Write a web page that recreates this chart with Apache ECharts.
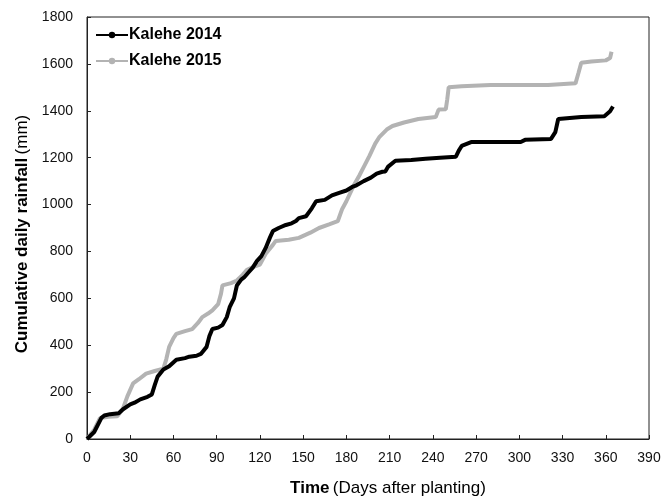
<!DOCTYPE html>
<html>
<head>
<meta charset="utf-8">
<script src="https://cdn.jsdelivr.net/npm/echarts@6/dist/echarts.min.js"></script>
<style>
  html, body { margin: 0; padding: 0; background: #fff; }
  #chart { width: 671px; height: 502px; }
</style>
</head>
<body>
<div id="chart"></div>
<script>
// Kalehe 2014 - cumulative rainfall (days after planting, mm)
const days2014 = [0, 5, 10, 12, 16, 22, 25, 30, 33, 37, 42, 45, 47, 49, 53, 57, 62, 68, 71, 76, 79, 83, 85, 87, 91, 94, 97, 99, 102, 104, 107, 109, 112, 115, 118, 121, 124, 127, 129, 133, 138, 142, 145, 147, 152, 156, 159, 165, 170, 175, 180, 184, 187, 192, 197, 201, 205, 207, 209, 214, 225, 235, 245, 256, 258, 260, 267, 290, 301, 304, 322, 325, 327, 343, 359, 363, 365];
const rain2014 = [0, 30, 90, 100, 106, 110, 127, 148, 155, 169, 180, 190, 230, 266, 296, 310, 338, 345, 351, 355, 363, 393, 440, 469, 475, 486, 520, 562, 600, 655, 680, 689, 710, 731, 760, 780, 815, 860, 887, 900, 913, 920, 930, 942, 950, 984, 1014, 1020, 1039, 1050, 1060, 1075, 1082, 1100, 1115, 1132, 1140, 1141, 1162, 1187, 1190, 1195, 1200, 1204, 1230, 1250, 1267, 1267, 1267, 1276, 1280, 1309, 1365, 1373, 1377, 1398, 1418];

// Kalehe 2015
const days2015 = [0, 5, 9, 15, 21, 25, 28, 32, 36, 41, 47, 53, 55, 57, 60, 62, 68, 73, 77, 80, 84, 87, 91, 93, 94, 100, 104, 108, 111, 116, 120, 124, 129, 131, 140, 147, 155, 161, 168, 174, 177, 180, 185, 189, 192, 196, 200, 203, 208, 212, 220, 230, 242, 244, 249, 250, 251, 260, 280, 300, 320, 339, 341, 343, 350, 360, 363, 364];
const rain2015 = [0, 40, 89, 95, 97, 130, 182, 237, 255, 279, 290, 300, 340, 393, 430, 448, 460, 469, 495, 520, 535, 549, 575, 620, 655, 665, 676, 700, 722, 735, 744, 790, 828, 845, 850, 858, 880, 900, 915, 929, 980, 1014, 1080, 1124, 1160, 1208, 1260, 1289, 1320, 1335, 1350, 1365, 1373, 1405, 1407, 1449, 1500, 1505, 1510, 1510, 1510, 1517, 1560, 1605, 1610, 1615, 1625, 1652];

const seriesNames = ['Kalehe 2014', 'Kalehe 2015'];
const xTicks = { min: 0, max: 390, step: 30 };
const yTicks = { min: 0, max: 1800, step: 200 };

const font = 'Liberation Sans, Arial, sans-serif';
const chart = echarts.init(document.getElementById('chart'));

const nameRich = {
    b: { fontWeight: 'bold', fontSize: 17, color: '#000', fontFamily: font },
    r: { fontSize: 17, color: '#000', fontFamily: font }
};

chart.setOption({
    animation: false,
    textStyle: { fontFamily: font },
    grid: {
        left: 87, right: 22, top: 17, bottom: 59,
        show: true, borderColor: '#222', borderWidth: 1
    },
    legend: {
        orient: 'vertical',
        left: 90, top: 22,
        itemWidth: 32, itemHeight: 8, itemGap: 10,
        textStyle: { fontFamily: font, fontWeight: 'bold', fontSize: 16, color: '#000', padding: [0, 0, 0, -4] },
        data: seriesNames
    },
    xAxis: {
        type: 'value',
        min: xTicks.min, max: xTicks.max, interval: xTicks.step,
        name: '{b|Time} {r|(Days after planting)}',
        nameLocation: 'middle', nameGap: 41,
        nameTextStyle: { rich: nameRich, padding: [0, 0, 0, 40] },
        axisLine: { lineStyle: { color: '#222' } },
        axisTick: { inside: true, length: 4, lineStyle: { color: '#222' } },
        axisLabel: { color: '#111', fontSize: 14, margin: 12 },
        splitLine: { show: false }
    },
    yAxis: {
        type: 'value',
        min: yTicks.min, max: yTicks.max, interval: yTicks.step,
        name: '{b|Cumulative daily rainfall} {r|(mm)}',
        nameLocation: 'middle', nameGap: 54, nameRotate: 90,
        nameTextStyle: { rich: nameRich, padding: [0, 12, 0, 0] },
        axisLine: { show: true, lineStyle: { color: '#222' } },
        axisTick: { show: true, inside: true, length: 4, lineStyle: { color: '#222' } },
        axisLabel: { color: '#111', fontSize: 14, margin: 14, formatter: v => String(v) },
        splitLine: { show: false }
    },
    series: [
        {
            name: seriesNames[0], type: 'line',
            data: days2014.map((d, i) => [d, rain2014[i]]),
            showSymbol: false, symbol: 'circle', symbolSize: 5,
            itemStyle: { color: '#000' },
            lineStyle: { color: '#000', width: 4 },
            z: 3
        },
        {
            name: seriesNames[1], type: 'line',
            data: days2015.map((d, i) => [d, rain2015[i]]),
            showSymbol: false, symbol: 'circle', symbolSize: 5,
            itemStyle: { color: '#b3b3b3' },
            lineStyle: { color: '#b3b3b3', width: 4 },
            z: 2
        }
    ]
});
window.addEventListener('resize', function () {
    chart.resize();
});
</script>
</body>
</html>
